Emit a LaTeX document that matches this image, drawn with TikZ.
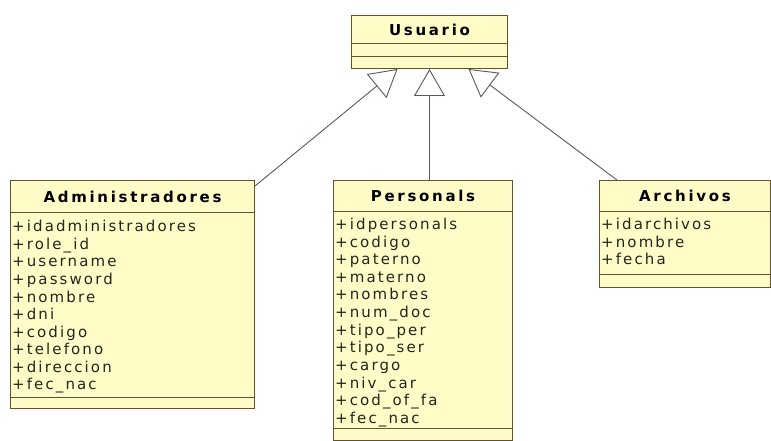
\documentclass[tikz,border=0pt]{standalone}
\usepackage{fontspec}
\setmainfont{DejaVu Sans}
\newfontfamily\attrfont{DejaVu Sans}[LetterSpace=14]
\newfontfamily\headfont{DejaVu Sans Bold}[LetterSpace=18]
\usetikzlibrary{arrows.meta}
\definecolor{classfill}{RGB}{255,252,200}
\definecolor{classline}{RGB}{105,80,45}
\definecolor{linkline}{RGB}{95,85,85}
\definecolor{attrtext}{RGB}{40,35,30}
\tikzset{
  x=1pt, y=-1pt,
  part/.style={draw=classline, fill=classfill, line width=1pt, anchor=north west, inner sep=0pt},
  classname/.style={font=\headfont\fontsize{15}{17}\selectfont, text=black},
  attrs/.style={anchor=north west, align=left, inner sep=0pt, text=attrtext,
                font=\attrfont\fontsize{15}{17.6}\selectfont},
  inherit/.style={draw=linkline, line width=0.9pt,
                  -{Triangle[open, length=27pt, width=31pt, fill=white]}}
}
\begin{document}
\begin{tikzpicture}
\useasboundingbox (0,0) rectangle (771,441);

% Usuario
\node[part, minimum width=156pt, minimum height=28pt] (usrT) at (351,15) {};
\node[part, minimum width=156pt, minimum height=13pt] (usrA) at (351,43) {};
\node[part, minimum width=156pt, minimum height=12pt] (usrO) at (351,56) {};
\node[classname] (usrN) at (usrT.center) {Usuario};

% Administradores
\node[part, minimum width=244pt, minimum height=32pt] (admT) at (10,180) {};
\node[part, minimum width=244pt, minimum height=185pt] (admA) at (10,212) {};
\node[part, minimum width=244pt, minimum height=11pt] (admO) at (10,397) {};
\node[classname] (admN) at (admT.center) {Administradores};
\node[attrs] (admL) at (12,220) {+idadministradores\\+role\_id\\+username\\+password\\+nombre\\+dni\\+codigo\\+telefono\\+direccion\\+fec\_nac};

% Personals
\node[part, minimum width=179pt, minimum height=31pt] (perT) at (333,180) {};
\node[part, minimum width=179pt, minimum height=217pt] (perA) at (333,211) {};
\node[part, minimum width=179pt, minimum height=12pt] (perO) at (333,428) {};
\node[classname] (perN) at (perT.center) {Personals};
\node[attrs] (perL) at (335,218) {+idpersonals\\+codigo\\+paterno\\+materno\\+nombres\\+num\_doc\\+tipo\_per\\+tipo\_ser\\+cargo\\+niv\_car\\+cod\_of\_fa\\+fec\_nac};

% Archivos
\node[part, minimum width=171pt, minimum height=31pt] (arcT) at (599,180) {};
\node[part, minimum width=171pt, minimum height=63pt] (arcA) at (599,211) {};
\node[part, minimum width=171pt, minimum height=13pt] (arcO) at (599,274) {};
\node[classname] (arcN) at (arcT.center) {Archivos};
\node[attrs] (arcL) at (601,218) {+idarchivos\\+nombre\\+fecha};

% generalisations
\draw[inherit] ([yshift=-6pt]admT.north east) -- ([xshift=-32pt]usrO.south);
\draw[inherit] (perT.north -| usrO.south) -- (usrO.south);
\draw[inherit] ([xshift=18pt]arcT.north west) -- ([xshift=39pt]usrO.south);
\end{tikzpicture}
\end{document}
